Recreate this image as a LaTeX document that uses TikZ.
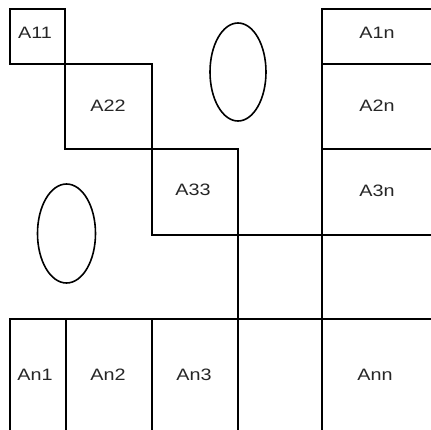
\documentclass[tikz,border=0pt]{standalone}
\usepackage{fontspec}
\setmainfont{Liberation Sans}
\begin{document}
\begin{tikzpicture}[x=1pt,y=-1pt,
  grid/.style={line width=2pt,line cap=rect},
  oval/.style={line width=1.6pt},
  lbl/.style={font=\fontsize{16.5}{16.5}\selectfont,xscale=1.2,inner sep=0pt,text=black!85}]
\useasboundingbox (0,0) rectangle (431,429);
% A11 box
\draw[grid] (10,9) rectangle (65,64);
% A22 box
\draw[grid] (65,64) -- (152,64) -- (152,235);
\draw[grid] (65,64) -- (65,149) -- (238,149) -- (238,429);
% A33 box bottom and right region
\draw[grid] (152,235) -- (431,235);
% right column
\draw[grid] (322,9) -- (322,429);
\draw[grid] (322,9) -- (431,9);
\draw[grid] (322,64) -- (431,64);
\draw[grid] (322,149) -- (431,149);
% bottom row
\draw[grid] (10,319) -- (431,319);
\draw[grid] (10,319) -- (10,429);
\draw[grid] (66,319) -- (66,429);
\draw[grid] (152,319) -- (152,429);
% ellipses
\draw[oval] (238,72) ellipse [x radius=28,y radius=49];
\draw[oval] (66.5,233.5) ellipse [x radius=29,y radius=49.5];
% labels
\node[lbl] (a11) at (35,33) {A11};
\node[lbl] (a22) at (108,106) {A22};
\node[lbl] (a33) at (193,190) {A33};
\node[lbl] (a1n) at (377,33) {A1n};
\node[lbl] (a2n) at (377,106) {A2n};
\node[lbl] (a3n) at (377,191) {A3n};
\node[lbl] (an1) at (35,375) {An1};
\node[lbl] (an2) at (108,375) {An2};
\node[lbl] (an3) at (194,375) {An3};
\node[lbl] (ann) at (375,375) {Ann};
\end{tikzpicture}
\end{document}
